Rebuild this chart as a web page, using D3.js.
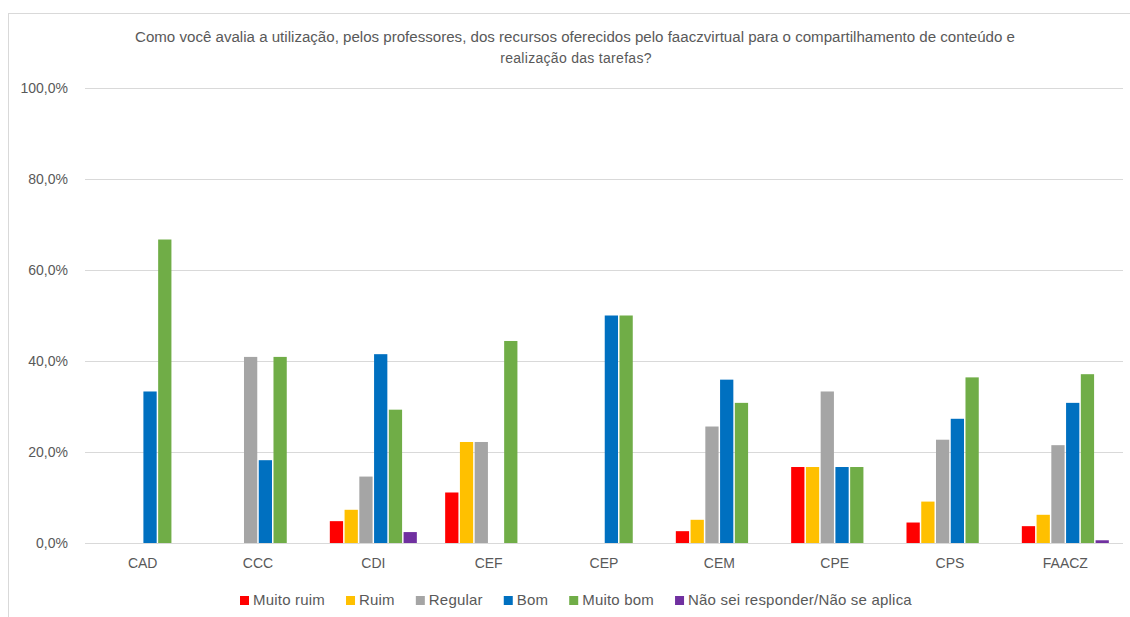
<!DOCTYPE html>
<html>
<head>
<meta charset="utf-8">
<script src="https://cdn.jsdelivr.net/npm/d3@7"></script>
<style>
  body { margin: 0; background: #fff; }
  svg { display: block; font-family: 'Liberation Sans', Arial, sans-serif; }
</style>
</head>
<body>
<svg id="chart" width="1130" height="617"></svg>
<script>
// categories (x axis)
const categories = ['CAD', 'CCC', 'CDI', 'CEF', 'CEP', 'CEM', 'CPE', 'CPS', 'FAACZ'];

// series names
const seriesNames = ['Muito ruim', 'Ruim', 'Regular', 'Bom', 'Muito bom', 'Não sei responder/Não se aplica'];

// values in %, per series, in category order
const muitoRuim = [0, 0, 4.8, 11.1, 0, 2.6, 16.7, 4.5, 3.7];
const ruim      = [0, 0, 7.3, 22.2, 0, 5.1, 16.7, 9.1, 6.2];
const regular   = [0, 40.9, 14.6, 22.2, 0, 25.6, 33.3, 22.7, 21.5];
const bom       = [33.3, 18.2, 41.5, 0, 50.0, 35.9, 16.7, 27.3, 30.8];
const muitoBom  = [66.7, 40.9, 29.3, 44.4, 50.0, 30.8, 16.7, 36.4, 37.1];
const naoSei    = [0, 0, 2.4, 0, 0, 0, 0, 0, 0.6];

const yTicks = [0, 20, 40, 60, 80, 100];

const seriesValues = [muitoRuim, ruim, regular, bom, muitoBom, naoSei];
const colors = ['#FF0000', '#FFC000', '#A5A5A5', '#0070C0', '#70AD47', '#7030A0'];

const svg = d3.select('#chart');
const margin = { top: 88, right: 7, bottom: 74, left: 85 };
const width = 1130, height = 617;
const textColor = '#595959';

// chart frame
svg.append('rect')
    .attr('x', 8.5).attr('y', 13.5)
    .attr('width', 1140).attr('height', 640)
    .attr('fill', 'none')
    .attr('stroke', '#D9D9D9');

// title
const title = svg.append('text')
    .attr('text-anchor', 'middle')
    .style('font-size', '14px')
    .style('fill', textColor);
title.append('tspan').attr('x', 575).attr('y', 42)
    .attr('textLength', 880).attr('lengthAdjust', 'spacingAndGlyphs')
    .text('Como você avalia a utilização, pelos professores, dos recursos oferecidos pelo faaczvirtual para o compartilhamento de conteúdo e');
title.append('tspan').attr('x', 576).attr('y', 63)
    .style('letter-spacing', '0.3px')
    .text('realização das tarefas?');

const x0 = d3.scaleBand()
    .domain(categories)
    .range([margin.left, width - margin.right])
    .paddingInner(0.22)
    .paddingOuter(0.11);

const x1 = d3.scaleBand()
    .domain(d3.range(seriesNames.length))
    .range([0, x0.bandwidth()])
    .padding(0.1);

const y = d3.scaleLinear()
    .domain([0, 100])
    .range([height - margin.bottom, margin.top]);

// gridlines
svg.append('g')
    .selectAll('line')
    .data(yTicks.filter(d => d > 0))
    .enter().append('line')
    .attr('x1', margin.left).attr('x2', width - margin.right)
    .attr('y1', d => y(d) + 0.5).attr('y2', d => y(d) + 0.5)
    .attr('stroke', '#D9D9D9')
    .attr('stroke-width', 1);

// y axis labels
const yAxis = svg.append('g')
    .attr('transform', `translate(${margin.left - 17}, 0)`)
    .call(d3.axisLeft(y).tickValues(yTicks).tickSize(0).tickPadding(0)
        .tickFormat(d => d3.format('.1f')(d).replace('.', ',') + '%'));
yAxis.select('.domain').remove();
yAxis.selectAll('text')
    .style('font-size', '14px')
    .style('font-family', "'Liberation Sans', Arial, sans-serif")
    .style('fill', textColor);

// bars
const groups = svg.append('g')
    .selectAll('g')
    .data(categories)
    .enter().append('g')
    .attr('transform', d => `translate(${x0(d)}, 0)`);

groups.selectAll('rect')
    .data((d, ci) => seriesValues.map((vals, si) => ({ si, v: vals[ci] })))
    .enter().append('rect')
    .filter(d => d.v > 0)
    .attr('x', d => x1(d.si))
    .attr('y', d => y(d.v))
    .attr('width', x1.bandwidth())
    .attr('height', d => y(0) - y(d.v))
    .attr('fill', d => colors[d.si]);

// x axis
const xAxis = svg.append('g')
    .attr('transform', `translate(0, ${y(0)})`)
    .call(d3.axisBottom(x0).tickSize(0).tickPadding(15));
xAxis.select('.domain')
    .attr('stroke', '#D9D9D9')
    .attr('d', `M${margin.left},0.5H${width - margin.right}`);
xAxis.selectAll('text')
    .style('font-size', '14px')
    .style('font-family', "'Liberation Sans', Arial, sans-serif")
    .style('fill', textColor);

// legend
const legend = svg.append('g').attr('transform', 'translate(0, 601)');
let lx = 240;
seriesNames.forEach((name, i) => {
    const item = legend.append('g').attr('transform', `translate(${lx}, 0)`);
    item.append('rect')
        .attr('x', 0).attr('y', -5)
        .attr('width', 9).attr('height', 9)
        .attr('fill', colors[i]);
    const t = item.append('text')
        .attr('x', 13).attr('y', 0)
        .attr('dominant-baseline', 'middle')
        .style('font-size', '15px')
        .style('letter-spacing', '0.2px')
        .style('fill', textColor)
        .text(name);
    lx += 13 + t.node().getComputedTextLength() + 21;
});
</script>
</body>
</html>
